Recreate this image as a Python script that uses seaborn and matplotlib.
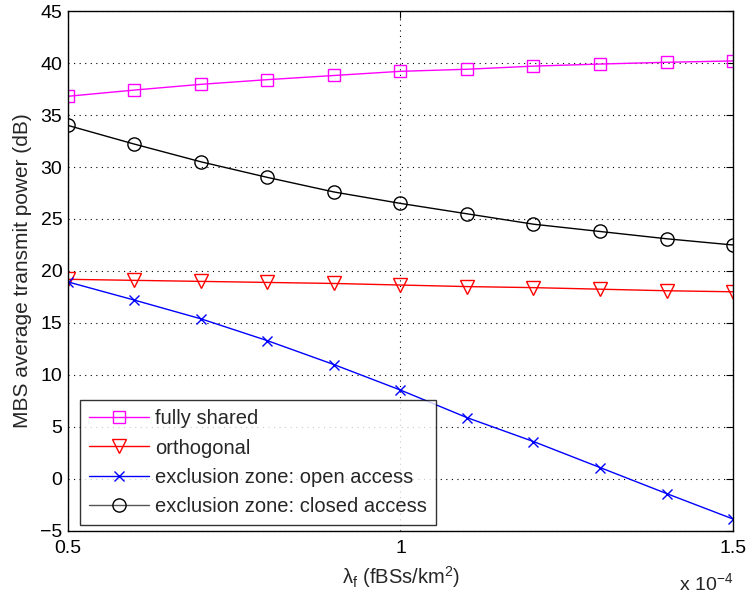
import matplotlib
matplotlib.use("Agg")
import matplotlib.pyplot as plt
import seaborn as sns
import pandas as pd

# fBS density (in units of 1e-4 fBSs/km^2)
lam_f = [0.5, 0.6, 0.7, 0.8, 0.9, 1.0, 1.1, 1.2, 1.3, 1.4, 1.5]

# MBS average transmit power (dB) per scheme
fully_shared = [36.8, 37.4, 37.95, 38.4, 38.8, 39.2, 39.4, 39.7, 39.9, 40.07, 40.2]
orthogonal = [19.2, 19.1, 19.0, 18.9, 18.8, 18.65, 18.5, 18.4, 18.25, 18.1, 18.0]
open_access = [18.95, 17.2, 15.4, 13.3, 11.0, 8.55, 5.9, 3.6, 1.1, -1.4, -3.85]
closed_access = [34.0, 32.2, 30.5, 29.0, 27.6, 26.5, 25.5, 24.5, 23.8, 23.1, 22.5]

series_names = ["fully shared", "orthogonal",
                "exclusion zone: open access", "exclusion zone: closed access"]
series_values = [fully_shared, orthogonal, open_access, closed_access]
colors = ["#ff00ff", "#ff0000", "#0000ff", "#000000"]
markers = ["s", "v", "x", "o"]
marker_sizes = [8, 10, 7, 9.5]

x_ticks = [0.5, 1, 1.5]
x_tick_labels = ["0.5", "1", "1.5"]
y_ticks = list(range(-5, 46, 5))

sns.set_style("white")
plt.rcParams["font.family"] = ["Liberation Sans", "DejaVu Sans"]
plt.rcParams["mathtext.default"] = "regular"
plt.rcParams["axes.unicode_minus"] = True

fig = plt.figure(figsize=(7.46, 6.02), dpi=100)
ax = fig.add_axes([0.091, 0.118, 0.8916, 0.8637])

for name, vals, c, m, ms in zip(series_names, series_values, colors,
                                markers, marker_sizes):
    df = pd.DataFrame({"x": lam_f, "y": vals})
    sns.lineplot(data=df, x="x", y="y", ax=ax, color=c, marker=m,
                 markersize=ms, markerfacecolor="none", markeredgecolor=c,
                 markeredgewidth=1.0, linewidth=1.0, label=name)

ax.set_xlim(0.5, 1.5)
ax.set_ylim(-5, 45)
ax.set_xticks(x_ticks)
ax.set_xticklabels(x_tick_labels)
ax.set_yticks(y_ticks)
ax.tick_params(direction="in", length=5, width=0.8, top=True, right=True,
               labelsize=14, colors="black")
ax.tick_params(axis="x", pad=6.5)
ax.tick_params(axis="y", pad=4)
ax.grid(True, linestyle=(0, (1, 4)), color="black", linewidth=0.8)
for s in ax.spines.values():
    s.set_color("black")
    s.set_linewidth(1.0)

ax.set_xlabel(r"$\lambda_f$ (fBSs/km$^2$)", fontsize=14.5, labelpad=5)
ax.set_ylabel("MBS average transmit power (dB)", fontsize=15, labelpad=6)
ax.text(1.0, -0.113, r"x 10$^{-4}$", transform=ax.transAxes,
        ha="right", va="baseline", fontsize=14)

leg = ax.legend(loc="lower left", bbox_to_anchor=(0.018, 0.012),
                fontsize=14.5, frameon=True, fancybox=False,
                borderpad=0.45, labelspacing=0.5, handlelength=3.0,
                handletextpad=0.3, borderaxespad=0.0)
leg.get_frame().set_edgecolor("black")
leg.get_frame().set_linewidth(1.0)
leg.get_lines()[3].set_color("#555555")
leg.get_lines()[3].set_markeredgecolor("black")

fig.savefig("out.png", dpi=100)
